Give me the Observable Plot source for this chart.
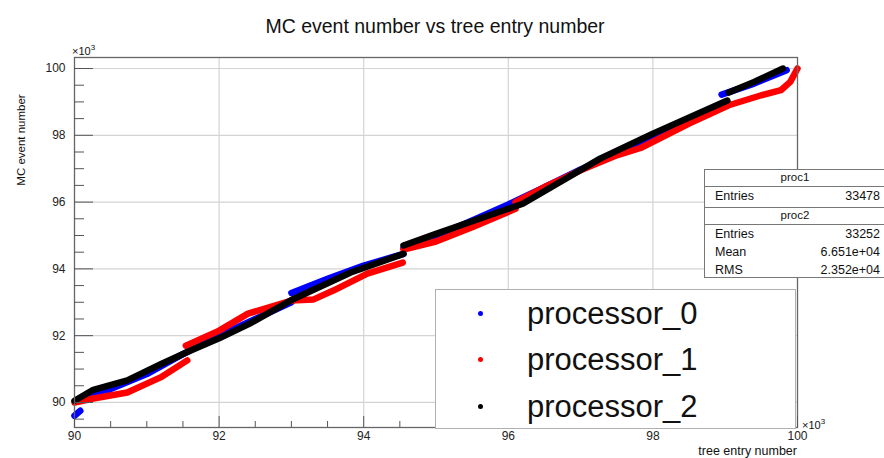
<!DOCTYPE html>
<html><head><meta charset="utf-8">
<script src="https://cdn.jsdelivr.net/npm/d3@7"></script>
<script src="https://cdn.jsdelivr.net/npm/@observablehq/plot@0.6"></script>
<style>
html,body{margin:0;padding:0;background:#fff;overflow:hidden;}
#wrap{position:relative;width:884px;height:458px;overflow:hidden;font-family:"Liberation Sans",Arial,sans-serif;color:#111;}
.t{position:absolute;white-space:nowrap;line-height:1;}
.c{transform:translate(-50%,-50%);}
#legend{position:absolute;left:435px;top:289px;width:361px;height:140px;background:#fff;border:1px solid #b0b0b0;box-sizing:border-box;}
.stat{position:absolute;background:#fff;border:1px solid #777;box-sizing:border-box;font-size:12.5px;}
.row{position:absolute;left:0;right:0;}
</style></head><body><div id="wrap"></div>
<script>
// ---- data (values ×10^3) ----
const processors = ["processor_0", "processor_1", "processor_2"];
const colors = ["#0000ff", "#ff0000", "#000000"];
const xTicks = [90, 92, 94, 96, 98, 100];
const yTicks = [90, 92, 94, 96, 98, 100];
const minorX = [90.5, 91, 91.5, 92.5, 93, 93.5, 94.5, 95, 95.5, 96.5, 97, 97.5, 98.5, 99, 99.5];
const minorY = [89.5, 90.5, 91, 91.5, 92.5, 93, 93.5, 94.5, 95, 95.5, 96.5, 97, 97.5, 98.5, 99, 99.5];

// processor_0 (blue): tree entry, MC event, run segment
const p0Entry = [90.0, 90.08,  90.1, 90.5, 91.0, 91.5, 92.0, 92.5, 93.0,  93.0, 93.5, 94.0, 94.55,  94.55, 95.0, 95.5, 96.0, 96.5, 97.0, 97.5, 98.0, 98.5, 98.95,  98.95, 99.4, 99.85];
const p0Event = [89.6, 89.75,  90.1, 90.4, 90.85, 91.45, 92.0, 92.5, 93.0,  93.28, 93.7, 94.1, 94.45,  94.62, 94.98, 95.45, 95.93, 96.45, 96.98, 97.45, 97.98, 98.45, 98.93,  99.22, 99.55, 99.95];
const p0Seg   = [0, 0,  1, 1, 1, 1, 1, 1, 1,  2, 2, 2, 2,  3, 3, 3, 3, 3, 3, 3, 3, 3, 3,  4, 4, 4];

// processor_1 (red)
const p1Entry = [90.0, 90.26, 90.73, 91.19, 91.56,  91.54, 92.0, 92.4, 93.0,  93.0, 93.3, 93.58, 94.05, 94.54,  94.55, 95.0, 95.5, 96.1,  96.1, 96.5, 97.0, 97.5, 97.83, 98.5, 99.05, 99.5, 99.77, 99.9, 100.0];
const p1Event = [90.0, 90.12, 90.3, 90.75, 91.26,  91.7, 92.15, 92.66, 93.05,  93.05, 93.08, 93.35, 93.86, 94.19,  94.58, 94.82, 95.25, 95.8,  96.0, 96.45, 96.95, 97.4, 97.62, 98.35, 98.9, 99.2, 99.35, 99.6, 100.0];
const p1Seg   = [0, 0, 0, 0, 0,  1, 1, 1, 1,  2, 2, 2, 2, 2,  3, 3, 3, 3,  4, 4, 4, 4, 4, 4, 4, 4, 4, 4, 4];

// processor_2 (black)
const p2Entry = [90.0, 90.26, 90.73, 91.2, 91.6, 92.0, 92.43, 93.03, 93.82, 94.55,  94.55, 95.0, 95.6, 96.2, 97.27, 98.0, 99.03,  99.05, 99.4, 99.8];
const p2Event = [90.05, 90.38, 90.66, 91.15, 91.55, 91.92, 92.37, 93.1, 93.89, 94.45,  94.7, 95.05, 95.5, 95.95, 97.3, 98.05, 99.04,  99.28, 99.6, 100.0];
const p2Seg   = [0, 0, 0, 0, 0, 0, 0, 0, 0, 0,  1, 1, 1, 1, 1, 1, 1,  2, 2, 2];

const seriesEntry = [p0Entry, p1Entry, p2Entry];
const seriesEvent = [p0Event, p1Event, p2Event];
const seriesSeg = [p0Seg, p1Seg, p2Seg];

const rows = [];
processors.forEach((p, k) => {
  seriesEntry[k].forEach((x, i) => rows.push({proc: p, seg: p + "-" + seriesSeg[k][i], x, y: seriesEvent[k][i]}));
});

// stats box values
const statNames = ["proc1", "proc2"];
const stat1 = [["Entries", "33478"]];
const stat2 = [["Entries", "33252"], ["Mean", "6.651e+04"], ["RMS", "2.352e+04"]];

const tickStyle = {fontSize: 12, fill: "#222"};

const chart = Plot.plot({
  width: 884, height: 458,
  marginLeft: 74, marginRight: 87, marginTop: 57, marginBottom: 31,
  x: {domain: [90, 100], label: null},
  y: {domain: [89.25, 100.33], label: null},
  color: {domain: processors, range: colors},
  style: {fontFamily: "Liberation Sans, Arial, sans-serif", background: "white", overflow: "visible"},
  marks: [
    Plot.gridX(xTicks.slice(1, -1), {stroke: "#d4d4d4", strokeOpacity: 1, strokeWidth: 1.2}),
    Plot.gridY(yTicks, {stroke: "#d4d4d4", strokeOpacity: 1, strokeWidth: 1.2}),
    Plot.line(rows, {x: "x", y: "y", z: "seg", stroke: "proc", strokeWidth: 6.5, strokeLinecap: "round", strokeLinejoin: "round"}),
    Plot.frame({stroke: "#666", strokeWidth: 1.3}),
    Plot.axisX(xTicks, {anchor: "bottom", tickSize: -11, tickPadding: 15, tickFormat: d => String(d), stroke: "#555", ...tickStyle}),
    Plot.axisX(minorX, {anchor: "bottom", tickSize: -6, tickFormat: () => "", stroke: "#555"}),
    Plot.axisY(yTicks, {anchor: "left", tickSize: -19, tickPadding: 28, tickFormat: d => String(d), stroke: "#555", ...tickStyle}),
    Plot.axisY(minorY, {anchor: "left", tickSize: -10, tickFormat: () => "", stroke: "#555"})
  ]
});

const wrap = document.getElementById("wrap");
wrap.appendChild(chart);

function addText(txt, css, cls = "t") {
  const d = document.createElement("div");
  d.className = cls;
  d.innerHTML = txt;
  Object.assign(d.style, css);
  wrap.appendChild(d);
  return d;
}
addText("MC event number vs tree entry number", {left: "435px", top: "27px", fontSize: "19.5px"}, "t c");
addText("MC event number", {left: "22px", top: "140px", fontSize: "11.5px", transform: "translate(-50%,-50%) rotate(-90deg)"});
addText("tree entry number", {right: (884 - 797) + "px", top: "445px", fontSize: "12.5px"});
addText("×10<sup style='font-size:8px'>3</sup>", {left: "72px", top: "44px", fontSize: "11px"});
addText("×10<sup style='font-size:8px'>3</sup>", {left: "802px", top: "418px", fontSize: "11px"});

// legend
const leg = document.createElement("div");
leg.id = "legend";
wrap.appendChild(leg);
const legY = [23, 69, 116];
processors.forEach((p, k) => {
  const dot = document.createElement("div");
  Object.assign(dot.style, {position: "absolute", left: "42px", top: (legY[k] - 2.5) + "px", width: "5px", height: "5px", borderRadius: "50%", background: colors[k]});
  leg.appendChild(dot);
  const t = document.createElement("div");
  t.className = "t";
  t.textContent = p;
  Object.assign(t.style, {left: "91px", top: legY[k] + "px", fontSize: "31px", transform: "translateY(-50%)", color: "#111"});
  leg.appendChild(t);
});

// stats boxes
function statBox(top, height, name, entries) {
  const b = document.createElement("div");
  b.className = "stat";
  Object.assign(b.style, {left: "704px", top: top + "px", width: "200px", height: height + "px"});
  const h = document.createElement("div");
  h.className = "row";
  Object.assign(h.style, {top: "0px", height: "16px", borderBottom: "1px solid #777"});
  const ht = document.createElement("div");
  ht.className = "t";
  ht.textContent = name;
  Object.assign(ht.style, {left: "90px", top: "8px", transform: "translate(-50%,-50%)", fontSize: "11.5px"});
  h.appendChild(ht);
  b.appendChild(h);
  entries.forEach(([k, v], i) => {
    const y = 26 + i * 18;
    const a = document.createElement("div"); a.className = "t"; a.textContent = k;
    Object.assign(a.style, {left: "10px", top: y + "px", transform: "translateY(-50%)"});
    const c = document.createElement("div"); c.className = "t"; c.textContent = v;
    Object.assign(c.style, {right: "23px", top: y + "px", transform: "translateY(-50%)"});
    b.appendChild(a); b.appendChild(c);
  });
  wrap.appendChild(b);
}
statBox(169, 39, statNames[0], stat1);
statBox(207, 71, statNames[1], stat2);
</script></body></html>
